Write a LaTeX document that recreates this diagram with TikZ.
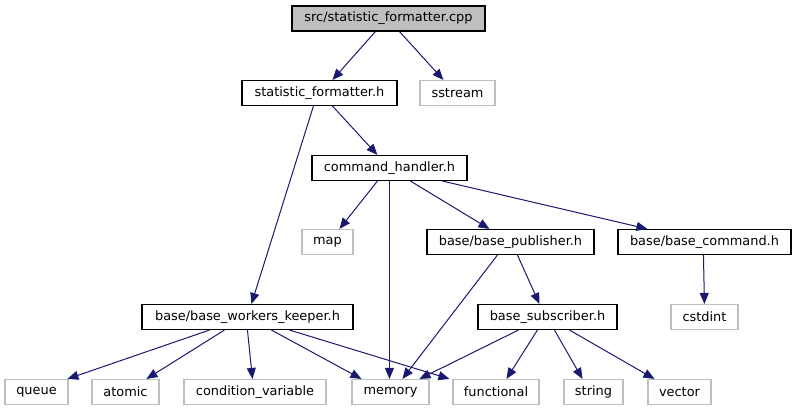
\documentclass[tikz,border=0pt]{standalone}
\usepackage{fontspec}
\setmainfont{DejaVu Sans}
\usetikzlibrary{arrows.meta}
\definecolor{edgeblue}{HTML}{191970}
\definecolor{extgrey}{HTML}{BFBFBF}
\tikzset{
  box/.style={draw=black, line width=1.1pt, minimum height=25pt, inner sep=0pt, font=\fontsize{12.9}{15}\selectfont, anchor=center},
  extbox/.style={box, draw=extgrey},
  rootbox/.style={box, fill=extgrey},
  edge/.style={draw=edgeblue, line width=1pt, -{Triangle[length=11pt,width=9pt]}, color=edgeblue},
}
\begin{document}
\begin{tikzpicture}[x=1pt,y=-1pt]
\useasboundingbox (0,0) rectangle (796,411);
\node[rootbox, minimum width=193pt] (root) at (388.5,18.5) {src/statistic\_formatter.cpp};
\node[box, minimum width=155pt] (sfh) at (319.5,93) {statistic\_formatter.h};
\node[extbox, minimum width=75pt] (sstream) at (457.5,93) {sstream};
\node[box, minimum width=155pt] (ch) at (389.5,168) {command\_handler.h};
\node[extbox, minimum width=51pt] (map) at (327.5,242) {map};
\node[box, minimum width=167pt] (bp) at (510.5,242) {base/base\_publisher.h};
\node[box, minimum width=173pt] (bc) at (704.5,242) {base/base\_command.h};
\node[box, minimum width=211pt] (bwk) at (247.5,317) {base/base\_workers\_keeper.h};
\node[box, minimum width=139pt] (bs) at (547.5,317) {base\_subscriber.h};
\node[extbox, minimum width=67pt] (cstdint) at (704.5,317) {cstdint};
\node[extbox, minimum width=63pt] (queue) at (36.5,392) {queue};
\node[extbox, minimum width=67pt] (atomic) at (125.5,392) {atomic};
\node[extbox, minimum width=142pt] (cv) at (255,392) {condition\_variable};
\node[extbox, minimum width=77pt] (memory) at (390.5,392) {memory};
\node[extbox, minimum width=86pt] (functional) at (496,392) {functional};
\node[extbox, minimum width=59pt] (string) at (593.5,392) {string};
\node[extbox, minimum width=63pt] (vector) at (679.5,392) {vector};

\draw[edge] ([xshift=84pt]root.south west) -- ([xshift=91pt]sfh.north west);
\draw[edge] ([xshift=108pt]root.south west) -- ([xshift=24pt]sstream.north west);
\draw[edge] ([xshift=91pt]sfh.south west) -- ([xshift=66pt]ch.north west);
\draw[edge] ([xshift=72pt]sfh.south west) -- ([xshift=110pt]bwk.north west);
\draw[edge] ([xshift=66pt]ch.south west) -- ([xshift=38pt]map.north west);
\draw[edge] ([xshift=78pt]ch.south west) -- ([xshift=38pt]memory.north west);
\draw[edge] ([xshift=99pt]ch.south west) -- ([xshift=63pt]bp.north west);
\draw[edge] ([xshift=131pt]ch.south west) -- ([xshift=30pt]bc.north west);
\draw[edge] ([xshift=71pt]bp.south west) -- ([xshift=51pt]memory.north west);
\draw[edge] ([xshift=91pt]bp.south west) -- ([xshift=62pt]bs.north west);
\draw[edge] ([xshift=86pt]bc.south west) -- ([xshift=34pt]cstdint.north west);
\draw[edge] ([xshift=68pt]bwk.south west) -- ([xshift=63pt]queue.north west);
\draw[edge] ([xshift=83pt]bwk.south west) -- ([xshift=55pt]atomic.north west);
\draw[edge] ([xshift=106pt]bwk.south west) -- ([xshift=69pt]cv.north west);
\draw[edge] ([xshift=130pt]bwk.south west) -- ([xshift=10pt]memory.north west);
\draw[edge] ([xshift=148pt]bwk.south west) -- ([xshift=-3pt]functional.north west);
\draw[edge] ([xshift=41pt]bs.south west) -- ([xshift=68pt]memory.north west);
\draw[edge] ([xshift=60pt]bs.south west) -- ([xshift=54pt]functional.north west);
\draw[edge] ([xshift=77pt]bs.south west) -- ([xshift=19pt]string.north west);
\draw[edge] ([xshift=92pt]bs.south west) -- ([xshift=7pt]vector.north west);
\end{tikzpicture}
\end{document}
